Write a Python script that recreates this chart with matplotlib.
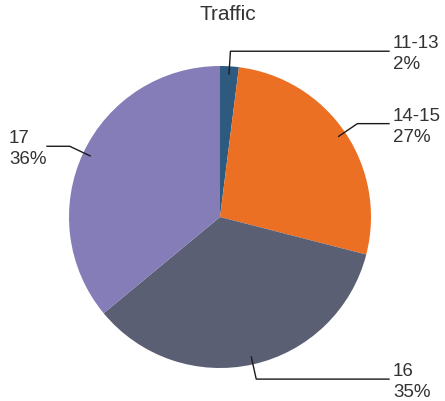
import numpy as np
import matplotlib
matplotlib.use("Agg")
import matplotlib.pyplot as plt

plt.rcParams['font.family'] = ['Liberation Sans', 'DejaVu Sans']

labels = ["11-13", "14-15", "16", "17"]
shares = [2, 27, 35, 36]
colors = ["#2e5a80", "#ec7024", "#5a5f73", "#857db8"]

W, H = 445, 402
cx, cy, r = 220, H - 218, 151

fig = plt.figure(figsize=(W / 100, H / 100), dpi=100)
ax = fig.add_axes([0, 0, 1, 1])

wedges, _ = ax.pie(shares, colors=colors, startangle=90, counterclock=False,
                   center=(cx, cy), radius=r, frame=True,
                   wedgeprops=dict(linewidth=0))
ax.set_xlim(0, W)
ax.set_ylim(0, H)
ax.set_aspect("equal")
ax.axis("off")

ax.text(228, H - 15, "Traffic", ha="center", va="center", fontsize=15, color="#333333")

total = sum(shares)
for w, lab, s in zip(wedges, labels, shares):
    ang = np.deg2rad((w.theta1 + w.theta2) / 2)
    x0, y0 = cx + 0.95 * r * np.cos(ang), cy + 0.95 * r * np.sin(ang)
    x1, y1 = cx + 1.1 * r * np.cos(ang), cy + 1.1 * r * np.sin(ang)
    if np.cos(ang) >= 0:
        x2, tx = 389, 393
    else:
        x2, tx = 47, 9
    ax.plot([x0, x1, x2], [y0, y1, y1], color="#1a1a1a", lw=1)
    ax.text(tx, y1 - 2, "%s\n%d%%" % (lab, round(100 * s / total)), ha="left", va="center",
            fontsize=13.5, color="#333333", linespacing=1.3)

fig.savefig("out.png", dpi=100)
